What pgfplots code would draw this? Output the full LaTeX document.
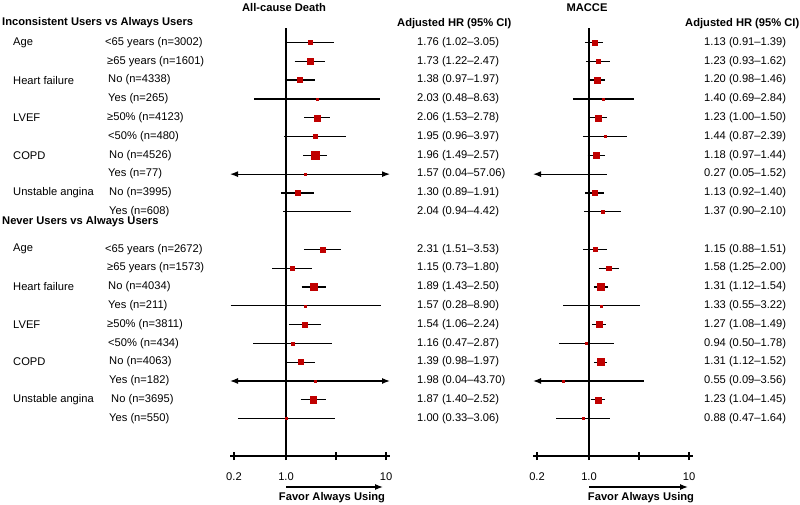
\documentclass[border=0pt]{standalone}
\usepackage{pgfplots}
\pgfplotsset{compat=1.18}
\usepackage{fontspec}
\setmainfont{Liberation Sans}
\usetikzlibrary{arrows.meta}
\definecolor{boxred}{HTML}{C00000}
\tikzset{>={Latex[length=8bp,width=6bp]}}

\newcommand\RY[1]{{23.7+18.8*#1}}
\newcommand\fs{\fontsize{11.2}{13}\selectfont}

\begin{document}
\fs
\begin{tikzpicture}[x=1bp, y=-1bp, font=\fs]
\path[use as bounding box] (0,0) rectangle (800,505);

% ---------- All-cause death ----------
\begin{axis}[xmode=log, scale only axis, width=160bp, height=428bp,
    xmin=0.27542, xmax=10.965, ymin=0.229, ymax=22.99, y dir=reverse,
    axis x line*=bottom, axis y line=none, ytick=\empty,
    xtick={0.30200,1,3.1623,10}, xticklabels={0.2,1.0,,10},
    xminorticks=false, major tick length=8bp, tick align=center,
    tick style={black, line width=1.25pt},
    axis line style={black, line width=1.25pt},
    xticklabel style={font=\fs, yshift=-9bp},
    at={(230bp,-456bp)}, anchor=south west]
\addplot[black, line width=1.25pt] coordinates {(1,0.229) (1,22.99)};
\addplot[black, line width=1.25pt, no markers, unbounded coords=jump] coordinates {
(1.02,1) (3.05,1) (nan,nan)
(1.22,2) (2.47,2) (nan,nan)
(0.97,3) (1.97,3) (nan,nan)
(0.48,4) (8.63,4) (nan,nan)
(1.53,5) (2.78,5) (nan,nan)
(0.96,6) (3.97,6) (nan,nan)
(1.49,7) (2.57,7) (nan,nan)
(0.89,9) (1.91,9) (nan,nan)
(0.94,10) (4.42,10) (nan,nan)
(1.51,12) (3.53,12) (nan,nan)
(0.73,13) (1.80,13) (nan,nan)
(1.43,14) (2.50,14) (nan,nan)
(0.28,15) (8.90,15) (nan,nan)
(1.06,16) (2.24,16) (nan,nan)
(0.47,17) (2.87,17) (nan,nan)
(0.98,18) (1.97,18) (nan,nan)
(1.40,20) (2.52,20) (nan,nan)
(0.33,21) (3.06,21)
};
% CIs beyond the axis range (0.04-57.06 and 0.04-43.70)
\addplot[black, line width=1.25pt, no markers, <->] coordinates {(0.27542,8) (10.965,8)};
\addplot[black, line width=1.25pt, no markers, <->] coordinates {(0.27542,19) (10.965,19)};
% hazard ratios, grouped by box size (weight)
\addplot[only marks, mark=square*, mark size=4, boxred, mark options={draw=none, fill=boxred}] coordinates {(1.96,7)};
\addplot[only marks, mark=square*, mark size=3.5, boxred, mark options={draw=none, fill=boxred}] coordinates {(1.89,14) (1.87,20)};
\addplot[only marks, mark=square*, mark size=3, boxred, mark options={draw=none, fill=boxred}] coordinates {(1.73,2) (2.06,5)};
\addplot[only marks, mark=square*, mark size=2.5, boxred, mark options={draw=none, fill=boxred}] coordinates {(1.38,3) (1.30,9) (2.31,12) (1.54,16) (1.39,18)};
\addplot[only marks, mark=square*, mark size=2, boxred, mark options={draw=none, fill=boxred}] coordinates {(1.76,1) (1.95,6) (1.15,13)};
\addplot[only marks, mark=square*, mark size=1.5, boxred, mark options={draw=none, fill=boxred}] coordinates {(1.16,17)};
\addplot[only marks, mark=square*, mark size=1, boxred, mark options={draw=none, fill=boxred}] coordinates {(2.03,4) (1.57,8) (1.57,15) (1.98,19) (1.00,21)};
\end{axis}

% ---------- MACCE ----------
\begin{axis}[xmode=log, scale only axis, width=160bp, height=428bp,
    xmin=0.27542, xmax=10.965, ymin=0.229, ymax=22.99, y dir=reverse,
    axis x line*=bottom, axis y line=none, ytick=\empty,
    xtick={0.30200,1,3.1623,10}, xticklabels={0.2,1.0,,10},
    xminorticks=false, major tick length=8bp, tick align=center,
    tick style={black, line width=1.25pt},
    axis line style={black, line width=1.25pt},
    xticklabel style={font=\fs, yshift=-9bp},
    at={(533bp,-456bp)}, anchor=south west]
\addplot[black, line width=1.25pt] coordinates {(1,0.229) (1,22.99)};
\addplot[black, line width=1.25pt, no markers, unbounded coords=jump] coordinates {
(0.91,1) (1.39,1) (nan,nan)
(0.93,2) (1.62,2) (nan,nan)
(0.98,3) (1.46,3) (nan,nan)
(0.69,4) (2.84,4) (nan,nan)
(1.001,5) (1.50,5) (nan,nan)
(0.87,6) (2.39,6) (nan,nan)
(0.97,7) (1.44,7) (nan,nan)
(0.92,9) (1.40,9) (nan,nan)
(0.90,10) (2.10,10) (nan,nan)
(0.88,12) (1.51,12) (nan,nan)
(1.25,13) (2.00,13) (nan,nan)
(1.12,14) (1.54,14) (nan,nan)
(0.55,15) (3.22,15) (nan,nan)
(1.08,16) (1.49,16) (nan,nan)
(0.50,17) (1.78,17) (nan,nan)
(1.12,18) (1.52,18) (nan,nan)
(1.04,20) (1.45,20) (nan,nan)
(0.47,21) (1.64,21)
};
% CIs beyond the lower limit (0.05-1.52 and 0.09-3.56); HR 0.27 itself is off the scale
\addplot[black, line width=1.25pt, no markers, <-] coordinates {(0.27542,8) (1.52,8)};
\addplot[black, line width=1.25pt, no markers, <-] coordinates {(0.27542,19) (3.56,19)};
% hazard ratios, grouped by box size (weight)
\addplot[only marks, mark=square*, mark size=3.5, boxred, mark options={draw=none, fill=boxred}] coordinates {(1.31,14) (1.31,18)};
\addplot[only marks, mark=square*, mark size=3, boxred, mark options={draw=none, fill=boxred}] coordinates {(1.20,3) (1.23,5) (1.18,7) (1.27,16) (1.23,20)};
\addplot[only marks, mark=square*, mark size=2.5, boxred, mark options={draw=none, fill=boxred}] coordinates {(1.13,1) (1.13,9)};
\addplot[only marks, mark=square*, mark size=2.2, boxred, mark options={draw=none, fill=boxred}] coordinates {(1.15,12) (1.58,13)};
\addplot[only marks, mark=square*, mark size=1.7, boxred, mark options={draw=none, fill=boxred}] coordinates {(1.23,2) (1.37,10)};
\addplot[only marks, mark=square*, mark size=1, boxred, mark options={draw=none, fill=boxred}] coordinates {(1.40,4) (1.44,6) (1.33,15) (0.94,17) (0.55,19) (0.88,21)};
\end{axis}

% ---------- titles ----------
\node[font=\fs\bfseries] at (284,8) {All-cause Death};
\node[font=\fs\bfseries] at (587,8) {MACCE};
\node[font=\fs\bfseries, anchor=west, inner sep=0] at (397,24) {Adjusted HR (95\% CI)};
\node[font=\fs\bfseries, anchor=west, inner sep=0] at (685,24) {Adjusted HR (95\% CI)};

% ---------- group headers ----------
\node[font=\fs\bfseries, anchor=west, inner sep=0] at (2,23) {Inconsistent Users vs Always Users};
\node[font=\fs\bfseries, anchor=west, inner sep=0] at (2,222) {Never Users vs Always Users};

% ---------- variable names ----------
\foreach \i/\t in {1/Age, 3/Heart failure, 5/LVEF, 7/COPD, 9/Unstable angina,
                   12/Age, 14/Heart failure, 16/LVEF, 18/COPD, 20/Unstable angina}
  \node[anchor=west, inner sep=0] at (13,\RY{\i}) {\t};

% ---------- subgroups ----------
\node[anchor=west, inner sep=0] at (105,\RY{1}) {<65 years (n=3002)};
\node[anchor=west, inner sep=0] at (107,\RY{2}) {≥65 years (n=1601)};
\node[anchor=west, inner sep=0] at (108,\RY{3}) {No (n=4338)};
\node[anchor=west, inner sep=0] at (108,\RY{4}) {Yes (n=265)};
\node[anchor=west, inner sep=0] at (107,\RY{5}) {≥50\% (n=4123)};
\node[anchor=west, inner sep=0] at (108,\RY{6}) {<50\% (n=480)};
\node[anchor=west, inner sep=0] at (109,\RY{7}) {No (n=4526)};
\node[anchor=west, inner sep=0] at (108,\RY{8}) {Yes (n=77)};
\node[anchor=west, inner sep=0] at (109,\RY{9}) {No (n=3995)};
\node[anchor=west, inner sep=0] at (109,\RY{10}) {Yes (n=608)};
\node[anchor=west, inner sep=0] at (105,\RY{12}) {<65 years (n=2672)};
\node[anchor=west, inner sep=0] at (107,\RY{13}) {≥65 years (n=1573)};
\node[anchor=west, inner sep=0] at (108,\RY{14}) {No (n=4034)};
\node[anchor=west, inner sep=0] at (108,\RY{15}) {Yes (n=211)};
\node[anchor=west, inner sep=0] at (107,\RY{16}) {≥50\% (n=3811)};
\node[anchor=west, inner sep=0] at (108,\RY{17}) {<50\% (n=434)};
\node[anchor=west, inner sep=0] at (109,\RY{18}) {No (n=4063)};
\node[anchor=west, inner sep=0] at (109,\RY{19}) {Yes (n=182)};
\node[anchor=west, inner sep=0] at (111,\RY{20}) {No (n=3695)};
\node[anchor=west, inner sep=0] at (109,\RY{21}) {Yes (n=550)};

% ---------- HR text, all-cause death ----------
\foreach \i/\t in {1/1.76 (1.02\textendash 3.05), 2/1.73 (1.22\textendash 2.47),
  3/1.38 (0.97\textendash 1.97), 4/2.03 (0.48\textendash 8.63),
  5/2.06 (1.53\textendash 2.78), 6/1.95 (0.96\textendash 3.97),
  7/1.96 (1.49\textendash 2.57), 8/1.57 (0.04\textendash 57.06),
  9/1.30 (0.89\textendash 1.91), 10/2.04 (0.94\textendash 4.42),
  12/2.31 (1.51\textendash 3.53), 13/1.15 (0.73\textendash 1.80),
  14/1.89 (1.43\textendash 2.50), 15/1.57 (0.28\textendash 8.90),
  16/1.54 (1.06\textendash 2.24), 17/1.16 (0.47\textendash 2.87),
  18/1.39 (0.98\textendash 1.97), 19/1.98 (0.04\textendash 43.70),
  20/1.87 (1.40\textendash 2.52), 21/1.00 (0.33\textendash 3.06)}
  \node[anchor=west, inner sep=0] at (417,\RY{\i}) {\t};

% ---------- HR text, MACCE ----------
\foreach \i/\t in {1/1.13 (0.91\textendash 1.39), 2/1.23 (0.93\textendash 1.62),
  3/1.20 (0.98\textendash 1.46), 4/1.40 (0.69\textendash 2.84),
  5/1.23 (1.00\textendash 1.50), 6/1.44 (0.87\textendash 2.39),
  7/1.18 (0.97\textendash 1.44), 8/0.27 (0.05\textendash 1.52),
  9/1.13 (0.92\textendash 1.40), 10/1.37 (0.90\textendash 2.10),
  12/1.15 (0.88\textendash 1.51), 13/1.58 (1.25\textendash 2.00),
  14/1.31 (1.12\textendash 1.54), 15/1.33 (0.55\textendash 3.22),
  16/1.27 (1.08\textendash 1.49), 17/0.94 (0.50\textendash 1.78),
  18/1.31 (1.12\textendash 1.52), 19/0.55 (0.09\textendash 3.56),
  20/1.23 (1.04\textendash 1.45), 21/0.88 (0.47\textendash 1.64)}
  \node[anchor=west, inner sep=0] at (704,\RY{\i}) {\t};

% ---------- direction arrows ----------
\draw[line width=1.25pt, ->] (286,487) -- (383,487);
\node[font=\fs\bfseries] at (332,498) {Favor Always Using};
\draw[line width=1.25pt, ->] (589,487) -- (688,487);
\node[font=\fs\bfseries] at (641,498) {Favor Always Using};
\end{tikzpicture}
\end{document}
